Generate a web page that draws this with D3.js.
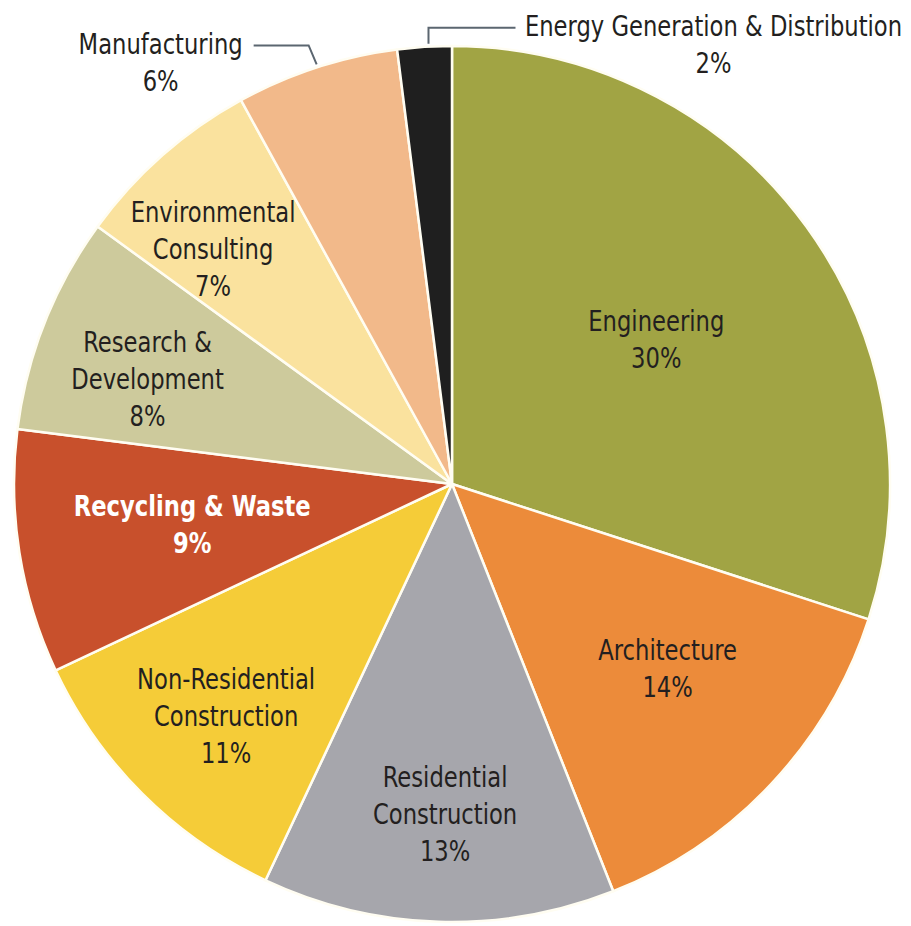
<!DOCTYPE html>
<html><head><meta charset="utf-8">
<script src="https://cdn.jsdelivr.net/npm/d3@7"></script>
<style>html,body{margin:0;padding:0;background:#fff;}svg{display:block;}</style>
</head><body>
<svg id="chart" width="911" height="926"></svg>
<script>
const categories = ["Engineering","Architecture","Residential Construction","Non-Residential Construction","Recycling & Waste","Research & Development","Environmental Consulting","Manufacturing","Energy Generation & Distribution"];
const values = [30,14,13,11,9,8,7,6,2];
const labelLines = [["Engineering"],["Architecture"],["Residential","Construction"],["Non-Residential","Construction"],["Recycling & Waste"],["Research &","Development"],["Environmental","Consulting"],["Manufacturing"],["Energy Generation & Distribution"]];
const colors = ["#a1a444","#ec8b3a","#a6a6ac","#f5cc38","#c8502c","#cdca9c","#fae29e","#f2b98a","#1f1f1f"];
// label placement (polar, relative to slice mid-angle)
const labelRadius = [250,284,330,324,263,322,335,null,null];
const labelAngleShift = [0.8,-2.6,-0.6,-0.8,0,-2.6,-4.1,0,0];

const svg = d3.select("#chart");
const cx = 452, cy = 484, R = 438;
const g = svg.append("g").attr("transform", `translate(${cx},${cy})`);
const data = categories.map((c,i)=>({name:c, value:values[i], i}));
const pie = d3.pie().value(d=>d.value).sort(null);
const arcs = pie(data);
const arc = d3.arc().innerRadius(0).outerRadius(R);
g.selectAll("path.slice").data(arcs).enter().append("path")
  .attr("class","slice").attr("d",arc).attr("fill",d=>colors[d.data.i])
  .attr("stroke","#fffdf2").attr("stroke-width",2.5).attr("stroke-linejoin","round");

const font = "'DejaVu Sans Condensed','Liberation Sans Narrow',sans-serif";
const fs = 28, lh = 37, sx = 0.9;
function addLabel(x, y, lines, i, color, weight){
  const all = lines.concat([values[i]+"%"]);
  const gg = svg.append("g").attr("transform",`translate(${x},${y}) scale(${sx},1)`);
  const t = gg.append("text").attr("text-anchor","middle").attr("font-family",font)
    .attr("font-size",fs).attr("fill",color).attr("font-weight",weight||"normal");
  const y0 = -(all.length-1)*lh/2;
  all.forEach((s,k)=>t.append("tspan").attr("x",0).attr("y",y0+k*lh).attr("dy","0.35em").text(s));
}
arcs.forEach(a=>{
  const i = a.data.i;
  if(labelRadius[i]==null) return;
  const mid = (a.startAngle+a.endAngle)/2 + labelAngleShift[i]*Math.PI/180;
  const x = cx + labelRadius[i]*Math.sin(mid);
  const y = cy - labelRadius[i]*Math.cos(mid);
  const white = i===4;
  addLabel(x, y, labelLines[i], i, white?"#fff":"#231f20", white?"bold":"normal");
});

// Outside labels with leaders
const man = arcs[7], en = arcs[8];
const manAng = (man.startAngle+man.endAngle)/2;
const mp = [cx+R*Math.sin(manAng), cy-R*Math.cos(manAng)];
svg.append("path").attr("d",`M${mp[0]},${mp[1]-3} L${mp[0]-8},${mp[1]-22} L${mp[0]-63},${mp[1]-22}`)
  .attr("fill","none").attr("stroke","#5b6670").attr("stroke-width",2);
addLabel(mp[0]-156, mp[1]-5, labelLines[7], 7, "#231f20");

const enAng = (en.startAngle+en.endAngle)/2;
const ep = [cx+R*Math.sin(enAng)+4, cy-R*Math.cos(enAng)];
svg.append("path").attr("d",`M${ep[0]},${ep[1]-3} L${ep[0]},${ep[1]-19} L${ep[0]+87},${ep[1]-19}`)
  .attr("fill","none").attr("stroke","#5b6670").attr("stroke-width",2);
addLabel(ep[0]+285, ep[1]-2, labelLines[8], 8, "#231f20");
</script>
</body></html>
